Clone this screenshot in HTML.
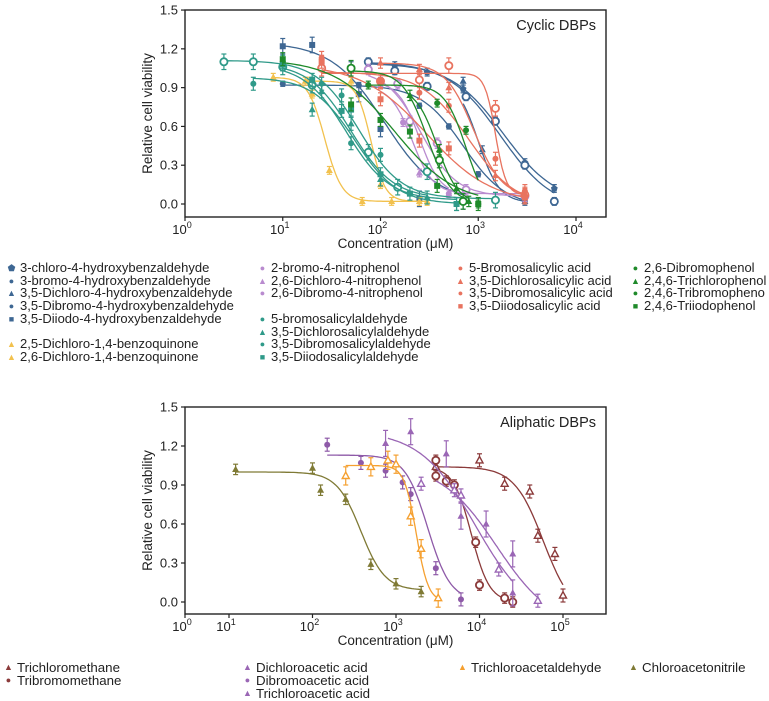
<!DOCTYPE html>
<html><head><meta charset="utf-8">
<style>
body{margin:0;width:769px;height:701px;background:#fff;overflow:hidden;font-family:"Liberation Sans",sans-serif;position:relative}
svg{position:absolute;left:0;top:0}
.lg{position:absolute;font-size:13px;line-height:12.7px;color:#222;white-space:nowrap}
.lg div{height:12.7px}
.lg2{position:absolute;font-size:13.3px;line-height:13px;color:#222;white-space:nowrap}
.lg2 div{height:13px}
.mk{display:inline-block;width:9px;margin-right:4px;font-size:9px;text-align:center;vertical-align:top}
</style></head><body>
<svg id="chart" width="769" height="701"></svg>

<div class="lg" style="left:7px;top:262px">
<div><span class="mk" style="color:#3e6793">⬟</span>3-chloro-4-hydroxybenzaldehyde</div>
<div><span class="mk" style="color:#3e6793">●</span>3-bromo-4-hydroxybenzaldehyde</div>
<div><span class="mk" style="color:#3e6793">▲</span>3,5-Dichloro-4-hydroxybenzaldehyde</div>
<div><span class="mk" style="color:#3e6793">●</span>3,5-Dibromo-4-hydroxybenzaldehyde</div>
<div><span class="mk" style="color:#3e6793">■</span>3,5-Diiodo-4-hydroxybenzaldehyde</div>
<div style="height:13px"></div>
<div><span class="mk" style="color:#f2c14e">▲</span>2,5-Dichloro-1,4-benzoquinone</div>
<div><span class="mk" style="color:#f2c14e">▲</span>2,6-Dichloro-1,4-benzoquinone</div>
</div>
<div class="lg" style="left:258px;top:262px">
<div><span class="mk" style="color:#b98bcf">●</span>2-bromo-4-nitrophenol</div>
<div><span class="mk" style="color:#b98bcf">▲</span>2,6-Dichloro-4-nitrophenol</div>
<div><span class="mk" style="color:#b98bcf">●</span>2,6-Dibromo-4-nitrophenol</div>
<div style="height:13px"></div>
<div><span class="mk" style="color:#2f9a89">●</span>5-bromosalicylaldehyde</div>
<div><span class="mk" style="color:#2f9a89">▲</span>3,5-Dichlorosalicylaldehyde</div>
<div><span class="mk" style="color:#2f9a89">●</span>3,5-Dibromosalicylaldehyde</div>
<div><span class="mk" style="color:#2f9a89">■</span>3,5-Diiodosalicylaldehyde</div>
</div>
<div class="lg" style="left:456px;top:262px">
<div><span class="mk" style="color:#e8735f">●</span>5-Bromosalicylic acid</div>
<div><span class="mk" style="color:#e8735f">▲</span>3,5-Dichlorosalicylic acid</div>
<div><span class="mk" style="color:#e8735f">●</span>3,5-Dibromosalicylic acid</div>
<div><span class="mk" style="color:#e8735f">■</span>3,5-Diiodosalicylic acid</div>
</div>
<div class="lg" style="left:631px;top:262px">
<div><span class="mk" style="color:#1f8a2a">●</span>2,6-Dibromophenol</div>
<div><span class="mk" style="color:#1f8a2a">▲</span>2,4,6-Trichlorophenol</div>
<div><span class="mk" style="color:#1f8a2a">●</span>2,4,6-Tribromopheno</div>
<div><span class="mk" style="color:#1f8a2a">■</span>2,4,6-Triiodophenol</div>
</div>

<div class="lg2" style="left:4px;top:661px">
<div><span class="mk" style="color:#8b3a3a">▲</span>Trichloromethane</div>
<div><span class="mk" style="color:#8b3a3a">●</span>Tribromomethane</div>
</div>
<div class="lg2" style="left:243px;top:661px">
<div><span class="mk" style="color:#9a66b5">▲</span>Dichloroacetic acid</div>
<div><span class="mk" style="color:#9a66b5">●</span>Dibromoacetic acid</div>
<div><span class="mk" style="color:#9a66b5">▲</span>Trichloroacetic acid</div>
</div>
<div class="lg2" style="left:458px;top:661px">
<div><span class="mk" style="color:#f5a030">▲</span>Trichloroacetaldehyde</div>
</div>
<div class="lg2" style="left:629px;top:661px">
<div><span class="mk" style="color:#7f7a35">▲</span>Chloroacetonitrile</div>
</div>

<script>
// ---------- Cyclic DBPs data ----------
const cyclicNames = ["3-chloro-4-hydroxybenzaldehyde","3-bromo-4-hydroxybenzaldehyde","3,5-Diiodo-4-hydroxybenzaldehyde","3,5-Dibromo-4-hydroxybenzaldehyde","3,5-Dichloro-4-hydroxybenzaldehyde","2,5-Dichloro-1,4-benzoquinone","2,6-Dichloro-1,4-benzoquinone","2-bromo-4-nitrophenol","2,6-Dichloro-4-nitrophenol","2,6-Dibromo-4-nitrophenol","5-bromosalicylaldehyde","3,5-Dichlorosalicylaldehyde","3,5-Dibromosalicylaldehyde","3,5-Diiodosalicylaldehyde","5-Bromosalicylic acid","3,5-Dichlorosalicylic acid","3,5-Dibromosalicylic acid","3,5-Diiodosalicylic acid","2,6-Dibromophenol","2,4,6-Trichlorophenol","2,4,6-Tribromophenol","2,4,6-Triiodophenol"];
const cyclicColors = ["#3e6793","#3e6793","#3e6793","#3e6793","#3e6793","#f2c14e","#f2c14e","#b98bcf","#b98bcf","#b98bcf","#2f9a89","#2f9a89","#2f9a89","#2f9a89","#e8735f","#e8735f","#e8735f","#e8735f","#1f8a2a","#1f8a2a","#1f8a2a","#1f8a2a"];
const cyclicMarkers = ["p","o","s","d","^","^","^","o","^","d","o","^","d","s","o","^","d","s","d","^","o","s"];
const cyclicConc = [
 [75,140,300,700,1500,3000,6000],
 [75,140,300,750,1500,3000,6000],
 [10,20,50,60,100,250,700],
 [10,60,250,500,1000,3000],
 [700,1100,3000],
 [8,17,20,30,65,130,250],
 [18,50,100,300],
 [75,150,200,380,750,3000],
 [100,250,500,3000],
 [100,170,500],
 [2.5,5,10,20,75,150,300,1500],
 [10,20,25,50,100,300],
 [5,10,25,40,50,100,600],
 [10,20,40,50,100,200,600],
 [25,100,250,500,1500,3000],
 [100,250,500,1500,3000],
 [25,100,250,500,1500,3000],
 [25,100,250,500,3000],
 [75,380,750,1000],
 [200,400,600,800],
 [50,400,700],
 [10,50,100,200,380,1000]
];
const cyclicVals = [
 [1.09,1.07,1.02,0.89,0.65,0.32,0.12],
 [1.10,1.03,0.91,0.83,0.64,0.30,0.02],
 [1.22,1.23,1.04,0.85,0.58,0.04,0.02],
 [0.93,0.92,0.76,0.60,0.23,0.02],
 [0.95,0.42,0.02],
 [0.98,0.95,0.85,0.26,0.02,0.02,0.02],
 [0.95,0.95,0.15,0.02],
 [1.04,0.93,0.64,0.47,0.11,0.06],
 [0.92,0.24,0.08,0.08],
 [0.95,0.63,0.08],
 [1.10,1.10,1.06,0.92,0.40,0.13,0.25,0.03],
 [1.08,0.73,0.87,0.62,0.19,0.05],
 [0.93,1.10,0.93,0.84,0.47,0.38,0.00],
 [1.08,0.96,0.72,0.73,0.23,0.08,0.00],
 [1.05,0.95,0.96,1.07,0.74,0.07],
 [1.09,1.04,0.90,0.22,0.08],
 [1.13,0.95,0.86,0.76,0.35,0.10],
 [1.10,0.81,0.49,0.43,0.05],
 [0.92,0.78,0.57,0.00],
 [0.84,0.42,0.12,0.02],
 [1.05,0.34,0.02],
 [1.12,0.77,0.65,0.56,0.14,0.00]
];
// fit parameters: top, bottom, IC50, hill
const cyclicTop = [1.09,1.10,1.25,0.92,0.96,0.98,0.95,1.04,0.91,0.95,1.11,1.09,0.98,1.08,1.01,1.09,1.02,1.08,0.92,0.90,1.03,1.12];
const cyclicBottom = [0.0,-0.05,0.01,-0.02,0.01,0.02,0.02,0.06,0.08,0.07,0.04,0.04,0.0,0.03,0.07,0.05,-0.02,0.0,-0.05,0.0,0.0,0.0];
const cyclicIC50 = [1800,1700,110,700,1000,27,80,260,210,250,60,50,55,45,1500,900,800,300,750,380,300,140];
const cyclicHill = [1.6,1.6,1.6,2.0,4,5,6,2.4,4,4,2,2,2,2,8,3,1.8,1.3,4,4,3.5,1.4];
const cyclicErr = [0.03,0.03,0.06,0.02,0.03,0.03,0.03,0.04,0.03,0.03,0.06,0.05,0.05,0.05,0.06,0.04,0.05,0.05,0.03,0.04,0.06,0.05];
const cyclicYTicks = ["0.0","0.3","0.6","0.9","1.2","1.5"];
const cyclicXTicks = [0,1,2,3,4];

// ---------- Aliphatic DBPs data ----------
const aliNames = ["Trichloromethane","Tribromomethane","Dichloroacetic acid","Dibromoacetic acid","Trichloroacetic acid","Trichloroacetaldehyde","Chloroacetonitrile"];
const aliColors = ["#8b3a3a","#8b3a3a","#9a66b5","#8e5aa8","#9a66b5","#f5a030","#7f7a35"];
const aliMarkers = ["^o","o","^","d","^o","^o","^"];
const aliConc = [
 [3000,10000,20000,40000,50000,80000,100000],
 [3000,3000,4000,5000,9000,10000,20000,25000],
 [750,1500,4000,6000,12000,25000,25000],
 [150,380,750,1200,1500,3000,6000],
 [2000,5000,6000,17000,50000],
 [250,500,800,1000,1500,2000,3200],
 [12,100,125,250,500,1000,2000]
];
const aliVals = [
 [1.04,1.09,0.91,0.85,0.51,0.37,0.05],
 [1.09,0.97,0.93,0.90,0.46,0.13,0.03,0.0],
 [1.22,1.31,1.14,0.66,0.60,0.37,0.07],
 [1.21,1.07,1.01,0.92,0.83,0.26,0.02],
 [0.91,0.86,0.82,0.25,0.01],
 [0.97,1.04,1.09,1.06,0.66,0.41,0.03],
 [1.02,1.03,0.86,0.79,0.29,0.14,0.08]
];
const aliTop = [1.04,1.04,1.32,1.13,1.06,1.05,1.0];
const aliBottom = [-0.1,0.0,-0.15,0.01,-0.2,0.0,0.09];
const aliIC50 = [58000,8000,9000,2400,16000,1750,380];
const aliHill = [2.5,4,1.3,3.2,1.3,6,3];
const aliRange = [[3000,100000],[3000,25000],[800,25000],[150,6000],[3000,50000],[250,3200],[12,2000]];
const aliErr = [0.05,0.04,0.1,0.05,0.05,0.07,0.04];
const aliYTicks = ["0.0","0.3","0.6","0.9","1.2","1.5"];
const aliXTicks = [0,1,2,3,4,5];

const NS="http://www.w3.org/2000/svg";
const svgRoot=document.getElementById('chart');
function mk(tag,attrs,parent){const e=document.createElementNS(NS,tag);for(const k in attrs)e.setAttribute(k,attrs[k]);(parent||svgRoot).appendChild(e);return e;}

function drawAxes(g,cfg){
 const frame=mk('rect',{x:cfg.L,y:cfg.T,width:cfg.R-cfg.L,height:cfg.B-cfg.T,fill:'none',stroke:'#222','stroke-width':1.4},g);
 
 
 cfg.yTicks.forEach((t)=>{const y=cfg.y(parseFloat(t));
  mk('line',{x1:cfg.L-4,x2:cfg.L,y1:y,y2:y,stroke:'#222','stroke-width':1.2},g);
  const tx=mk('text',{x:cfg.L-7,y:y+4.5,'text-anchor':'end','font-size':13,fill:'#222'},g);tx.textContent=t;
  
  
 });
 cfg.xTicks.forEach((p)=>{const x=cfg.xt(p);
  mk('line',{x1:x,x2:x,y1:cfg.B,y2:cfg.B+4,stroke:'#222','stroke-width':1.2},g);
  const tx=mk('text',{x:x-3,y:cfg.B+17,'text-anchor':'middle','font-size':13,fill:'#222'},g);
  
  
  tx.appendChild(document.createTextNode('10'));
  const s=mk('tspan',{dy:-6,'font-size':9},tx);s.textContent=p;
 });
 const xl=mk('text',{x:(cfg.L+cfg.R)/2,y:cfg.B+31,'text-anchor':'middle','font-size':13.5,fill:'#222'},g);xl.textContent='Concentration (μM)';
 
 
 const cy=(cfg.T+cfg.B)/2;
 const yl=mk('text',{x:cfg.L-33,y:cy,'text-anchor':'middle','font-size':13.5,fill:'#222',transform:`rotate(-90 ${cfg.L-33} ${cy})`},g);yl.textContent='Relative cell viability';
 
 
 const ti=mk('text',{x:cfg.R-10,y:cfg.T+20,'text-anchor':'end','font-size':14.5,fill:'#222'},g);ti.textContent=cfg.title;
 
 
}
function marker(g,m,x,y,c){
 let e;
 if(m==='o'){e=mk('circle',{cx:x,cy:y,r:3.6,fill:'#fff',stroke:c,'stroke-width':1.8},g);}
 else if(m==='d'){e=mk('circle',{cx:x,cy:y,r:3,fill:c},g);}
 else if(m==='s'){e=mk('rect',{x:x-3,y:y-3,width:6,height:6,fill:c},g);}
 else if(m==='p'){e=mk('polygon',{points:`${x},${y-3.6} ${x+3.4},${y-1} ${x+2.2},${y+3} ${x-2.2},${y+3} ${x-3.4},${y-1}`,fill:c},g);}
 else {e=mk('polygon',{points:`${x},${y-3.8} ${x+3.5},${y+2.6} ${x-3.5},${y+2.6}`,fill:m==='^o'?'#fff':c,stroke:c,'stroke-width':m==='^o'?1.4:0},g);}
 
 
}
function logistic(c,tp,bt,ic,h){return bt+(tp-bt)/(1+Math.pow(c/ic,h));}
function drawSeries(g,cfg,i,conc,vals,color,m,tp,bt,ic,h,err,range){
 const sg=mk('g',{},g);
 
 
 const lo=Math.log10(range[0]),hi=Math.log10(range[1]);
 let d='';
 for(let k=0;k<=80;k++){const lc=lo+(hi-lo)*k/80;const v=logistic(Math.pow(10,lc),tp,bt,ic,h);d+=(k?'L':'M')+cfg.xt(lc).toFixed(1)+','+cfg.y(v).toFixed(1);}
 const p=mk('path',{d:d,fill:'none',stroke:color,'stroke-width':1.3},sg);
 
 
 conc.forEach((c,j)=>{const x=cfg.xt(Math.log10(c)),y=cfg.y(vals[j]);
  const y1=cfg.y(vals[j]+err),y2=cfg.y(vals[j]-err);
  mk('line',{x1:x,x2:x,y1:y1,y2:y2,stroke:color,'stroke-width':1.2},sg);
  mk('line',{x1:x-2.5,x2:x+2.5,y1:y1,y2:y1,stroke:color,'stroke-width':1.2},sg);
  mk('line',{x1:x-2.5,x2:x+2.5,y1:y2,y2:y2,stroke:color,'stroke-width':1.2},sg);
  marker(sg,m,x,y,color);
 });
}

// Cyclic chart
const cfgTop={L:185,R:606,T:10,B:217,title:'Cyclic DBPs',yTicks:cyclicYTicks,xTicks:cyclicXTicks,names:cyclicNames,
 y:v=>204-v*129.3, xt:p=>185+p*97.75};
const gTop=mk('g',{});


drawAxes(gTop,cfgTop);
cyclicNames.forEach((n,i)=>{const cs=cyclicConc[i];
 drawSeries(gTop,cfgTop,i,cs,cyclicVals[i],cyclicColors[i],cyclicMarkers[i],cyclicTop[i],cyclicBottom[i],cyclicIC50[i],cyclicHill[i],cyclicErr[i],[cs[0],cs[cs.length-1]]);
});

// Aliphatic chart
const cfgBot={L:185,R:606,T:407,B:614,title:'Aliphatic DBPs',yTicks:aliYTicks,xTicks:aliXTicks,names:aliNames,
 y:v=>602-v*130, xt:p=>p<1?185+p*44:229+(p-1)*83.5};
const gBot=mk('g',{});


drawAxes(gBot,cfgBot);
aliNames.forEach((n,i)=>{
 drawSeries(gBot,cfgBot,i,aliConc[i],aliVals[i],aliColors[i],aliMarkers[i],aliTop[i],aliBottom[i],aliIC50[i],aliHill[i],aliErr[i],aliRange[i]);
});
</script>
</body></html>
